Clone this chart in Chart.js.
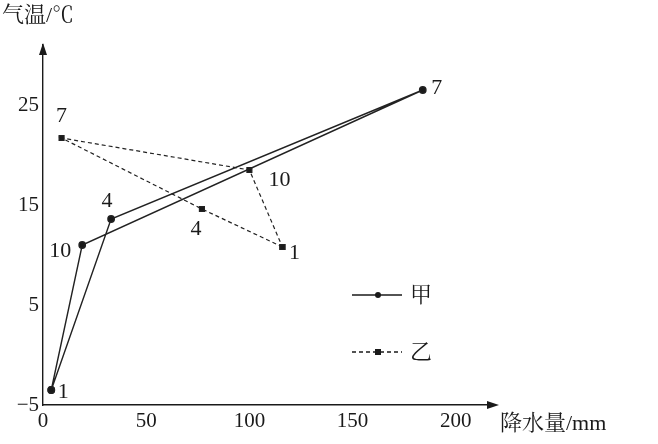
<!DOCTYPE html>
<html><head><meta charset="utf-8">
<script src="https://cdn.jsdelivr.net/npm/chart.js@4"></script>
<style>html,body{margin:0;padding:0;background:#fff}</style>
</head><body>
<canvas id="c" width="658" height="444" style="width:658px;height:444px"></canvas>
<script>
const months = ["1","4","7","10"];
const jiaPrecip = [4, 33, 184, 19];
const jiaTemp = [-3.5, 13.6, 26.5, 11];
const yiPrecip = [116, 77, 9, 100];
const yiTemp = [10.8, 14.6, 21.7, 18.5];
const xTicks = [0,50,100,150,200];
const yTicks = [-5,5,15,25];
const FONT = "'Liberation Serif','Noto Serif CJK SC','Noto Sans CJK SC',serif";
function pts(xs,ys){const a=xs.map((x,i)=>({x,y:ys[i]}));a.push(a[0]);return a;}
const jiaOff=[[12,2],[-4,-18],[14,-2],[-22,6]];
const yiOff=[[12,6],[-6,20],[0,-22],[30,10]];
const deco={id:'deco',afterDraw(ch){
 const c=ch.ctx,a=ch.chartArea,xs=ch.scales.x,ys=ch.scales.y;
 c.save();c.fillStyle='#1a1a1a';c.strokeStyle='#1a1a1a';c.lineWidth=1.3;
 c.beginPath();c.moveTo(a.left,a.top-2);c.lineTo(a.left-4,a.top+10);c.lineTo(a.left+4,a.top+10);c.closePath();c.fill();
 c.beginPath();c.moveTo(a.right+4,a.bottom);c.lineTo(a.right-8,a.bottom-4);c.lineTo(a.right-8,a.bottom+4);c.closePath();c.fill();
 c.font="22px "+FONT;c.textBaseline='middle';c.textAlign='center';
 months.forEach((m,i)=>{
  c.fillText(m,xs.getPixelForValue(jiaPrecip[i])+jiaOff[i][0],ys.getPixelForValue(jiaTemp[i])+jiaOff[i][1]);
  c.fillText(m,xs.getPixelForValue(yiPrecip[i])+yiOff[i][0],ys.getPixelForValue(yiTemp[i])+yiOff[i][1]);
 });
 c.textAlign='left';
 c.fillText("气温/℃",2,16);
 c.fillText("降水量/mm",500,424);
 c.beginPath();c.moveTo(352,295);c.lineTo(402,295);c.stroke();
 c.beginPath();c.arc(378,295,3,0,7);c.fill();
 c.fillText("甲",410,296);
 c.setLineDash([4,3]);c.beginPath();c.moveTo(352,352);c.lineTo(402,352);c.stroke();c.setLineDash([]);
 c.fillRect(375,349,6,6);
 c.fillText("乙",410,353);
 c.restore();
}};
new Chart(document.getElementById('c'),{
 type:'scatter',
 data:{datasets:[
  {label:'甲',data:pts(jiaPrecip,jiaTemp),showLine:true,borderColor:'#222',backgroundColor:'#1a1a1a',borderWidth:1.4,pointRadius:3.2,pointStyle:'circle',tension:0},
  {label:'乙',data:pts(yiPrecip,yiTemp),showLine:true,borderColor:'#222',backgroundColor:'#1a1a1a',borderWidth:1.2,borderDash:[4,3],pointRadius:3.5,pointStyle:'rect',tension:0}
 ]},
 options:{responsive:false,animation:false,devicePixelRatio:1,
  layout:{padding:{left:0,right:163,top:45,bottom:0}},
  plugins:{legend:{display:false},tooltip:{enabled:false}},
  scales:{
   x:{min:0,max:219,grid:{display:false,drawTicks:false},border:{color:'#1a1a1a',width:1.4},
      afterBuildTicks(s){s.ticks=xTicks.map(v=>({value:v}));},
      afterFit(s){s.height=39;},
      ticks:{color:'#1a1a1a',padding:4,font:{family:FONT,size:21}}},
   y:{min:-5,max:31,grid:{display:false,drawTicks:false},border:{color:'#1a1a1a',width:1.4},
      afterBuildTicks(s){s.ticks=yTicks.map(v=>({value:v}));},
      afterFit(s){s.width=43;},
      ticks:{color:'#1a1a1a',padding:4,font:{family:FONT,size:21},callback:v=>String(v).replace('-','−')}}
  }},
 plugins:[deco]
});
</script></body></html>
